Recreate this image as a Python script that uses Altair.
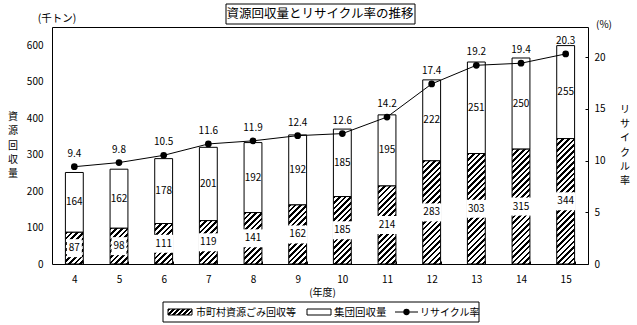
import math
import altair as alt
import pandas as pd

# ---------------- data ----------------
years = ["4", "5", "6", "7", "8", "9", "10", "11", "12", "13", "14", "15"]
municipal = [87, 98, 111, 119, 141, 162, 185, 214, 283, 303, 315, 344]
group = [164, 162, 178, 201, 192, 192, 185, 195, 222, 251, 250, 255]
rate = [9.4, 9.8, 10.5, 11.6, 11.9, 12.4, 12.6, 14.2, 17.4, 19.2, 19.4, 20.3]

left_ticks = [0, 100, 200, 300, 400, 500, 600]
right_ticks = [0, 5, 10, 15, 20]

title_text = "資源回収量とリサイクル率の推移"
left_unit = "(千トン)"
right_unit = "(%)"
x_title = "(年度)"
left_title = "資源回収量"
right_title = "リサイクル率"
legend_labels = ["市町村資源ごみ回収等", "集団回収量", "リサイクル率"]

# ---------------- layout ----------------
W, H = 536, 237
L_MAX, R_MAX = 650, 22.9
FONT = "Noto Sans CJK JP"
P_IN, P_OUT = 0.6, 0.3
STEP = W / (len(years) - P_IN + 2 * P_OUT)
BW = STEP * (1 - P_IN)


def hatch(w, h, period=4.0, frac=0.45):
    """Diagonal '////' stripes as a linear gradient in bbox units."""
    k = (w + h) / (w * w + h * h)
    n = (w + h) / (period * math.sqrt(2))
    stops = []
    i = 0
    while i < n:
        a = i / n
        b = min((i + frac) / n, 1.0)
        c = min((i + 1) / n, 1.0)
        stops += [
            alt.GradientStop(color="black", offset=a),
            alt.GradientStop(color="black", offset=b),
            alt.GradientStop(color="white", offset=b),
            alt.GradientStop(color="white", offset=c),
        ]
        i += 1
    return alt.LinearGradient(gradient="linear", stops=stops,
                              x1=0, y1=0, x2=k * w, y2=k * h)


df = pd.DataFrame({"year": years, "municipal": municipal, "group": group, "rate": rate})
df["total"] = df["municipal"] + df["group"]
df["mid_m"] = df["municipal"] / 2
df["mid_g"] = df["municipal"] + df["group"] / 2
df["rate_lbl"] = [f"{r:.1f}" for r in rate]

one = pd.DataFrame({"a": [0]})

x_axis = alt.Axis(title=x_title, labelAngle=0, domain=False, ticks=True, tickSize=3,
                  tickBand="extent", tickColor="black", offset=-3, labelPadding=10,
                  titleX=W / 2 + 2, titleY=31, titleBaseline="middle", titleAlign="center",
                  titleFontSize=10)
X = alt.X("year:N", sort=years, scale=alt.Scale(domain=years, paddingInner=P_IN, paddingOuter=P_OUT),
          axis=x_axis)

yL_scale = alt.Scale(domain=[0, L_MAX], nice=False)
yL_axis = alt.Axis(values=left_ticks, domain=False, ticks=False, tickSize=0, grid=False,
                   labelPadding=9, title=None)
yR_scale = alt.Scale(domain=[0, R_MAX], nice=False)
yR_axis = alt.Axis(values=right_ticks, orient="right", domain=False, ticks=True, tickSize=3,
                   tickColor="black", offset=-3, grid=False, labelPadding=6, title=None)


def YL(field):
    return alt.Y(field, type="quantitative", scale=yL_scale, axis=yL_axis)


def YR(field):
    return alt.Y(field, type="quantitative", scale=yR_scale, axis=yR_axis)


base = alt.Chart(df)

# group (white) segment
group_bars = base.mark_bar(fill="white", stroke="black", strokeWidth=1).encode(
    x=X, y=YL("municipal"), y2="total:Q")

# hatched municipal bars, one gradient per bar so the stripes keep a fixed spacing
hatched = []
for i, yr in enumerate(years):
    h = municipal[i] * H / L_MAX
    hatched.append(
        base.transform_filter(alt.datum.year == yr)
        .mark_bar(fill=hatch(BW, h), stroke="black", strokeWidth=1)
        .encode(x=X, y=YL("municipal"))
    )

box_wide = "M-1,-0.9H1V0.9H-1Z"
box_narrow = "M-0.75,-0.9H0.75V0.9H-0.75Z"
label_boxes = base.mark_point(filled=True, fill="white", strokeWidth=0, opacity=1, size=400).encode(
    x=X, y=YL("mid_m"),
    shape=alt.condition(alt.datum.municipal < 100, alt.value(box_narrow), alt.value(box_wide)))

m_labels = base.mark_text(font=FONT, fontSize=10, baseline="middle", color="black").encode(
    x=X, y=YL("mid_m"), text="municipal:Q")
g_labels = base.mark_text(font=FONT, fontSize=10, baseline="middle", color="black").encode(
    x=X, y=YL("mid_g"), text="group:Q")

# ---------------- decorations (title, units, axis titles, legend) ----------------
deco = alt.Chart(one)
title_box = deco.mark_rect(fill="white", stroke="black", strokeWidth=1).encode(
    x=alt.value(174), x2=alt.value(363), y=alt.value(-23), y2=alt.value(-3))
title_txt = deco.mark_text(font=FONT, fontSize=12.5, baseline="middle", align="center").encode(
    x=alt.value(268), y=alt.value(-13), text=alt.value(title_text))
lunit = deco.mark_text(font=FONT, fontSize=10.5, baseline="middle", align="center").encode(
    x=alt.value(5), y=alt.value(-8), text=alt.value(left_unit))
runit = deco.mark_text(font=FONT, fontSize=10, baseline="middle", align="center").encode(
    x=alt.value(552), y=alt.value(-2), text=alt.value(right_unit))
ltitle = deco.mark_text(font=FONT, fontSize=10, baseline="top", align="center", lineHeight=14.3).encode(
    x=alt.value(-39), y=alt.value(85), text=alt.value(list(left_title)))
rtitle = deco.mark_text(font=FONT, fontSize=10, baseline="top", align="center", lineHeight=14.2).encode(
    x=alt.value(573), y=alt.value(78), text=alt.value(list(right_title)))

leg_box = deco.mark_rect(fill="white", stroke="black", strokeWidth=1).encode(
    x=alt.value(111), x2=alt.value(427), y=alt.value(275), y2=alt.value(295))
leg_sw1 = deco.mark_rect(fill=hatch(24, 6, period=3.5), stroke="black", strokeWidth=1).encode(
    x=alt.value(116), x2=alt.value(140), y=alt.value(282), y2=alt.value(288))
leg_t1 = deco.mark_text(font=FONT, fontSize=10, baseline="middle", align="left").encode(
    x=alt.value(144), y=alt.value(285.5), text=alt.value(legend_labels[0]))
leg_sw2 = deco.mark_rect(fill="white", stroke="black", strokeWidth=1).encode(
    x=alt.value(255), x2=alt.value(279), y=alt.value(282), y2=alt.value(288))
leg_t2 = deco.mark_text(font=FONT, fontSize=10.5, baseline="middle", align="left").encode(
    x=alt.value(282), y=alt.value(285.5), text=alt.value(legend_labels[1]))
leg_ln = deco.mark_rule(color="black", strokeWidth=1).encode(
    x=alt.value(343), x2=alt.value(366), y=alt.value(285))
leg_pt = deco.mark_circle(color="black", opacity=1, size=40).encode(
    x=alt.value(354.5), y=alt.value(285))
leg_t3 = deco.mark_text(font=FONT, fontSize=10, baseline="middle", align="left").encode(
    x=alt.value(368), y=alt.value(285.5), text=alt.value(legend_labels[2]))

left = alt.layer(group_bars, *hatched, label_boxes, m_labels, g_labels,
                 title_box, title_txt, lunit, runit, ltitle, rtitle,
                 leg_box, leg_sw1, leg_t1, leg_sw2, leg_t2, leg_ln, leg_pt, leg_t3)

# ---------------- recycling rate line ----------------
line = base.mark_line(color="black", strokeWidth=1).encode(x=X, y=YR("rate"))
pts = base.mark_circle(color="black", opacity=1, size=45).encode(x=X, y=YR("rate"))
r_labels = base.mark_text(font=FONT, fontSize=10, baseline="middle", dy=-13, color="black").encode(
    x=X, y=YR("rate"), text="rate_lbl:N")
right = alt.layer(line, pts, r_labels)

chart = (
    alt.layer(left, right)
    .resolve_scale(y="independent")
    .properties(width=W, height=H,
                padding={"left": 52, "top": 27, "right": 49, "bottom": 61},
                autosize=alt.AutoSizeParams(type="none"))
    .configure_view(stroke="black", strokeWidth=1)
    .configure_axis(labelFont=FONT, titleFont=FONT, labelFontSize=10, titleFontSize=11,
                    labelColor="black", titleColor="black", titleFontWeight="normal")
)

chart.save("out.html", embed_options={"renderer": "svg", "actions": False})
